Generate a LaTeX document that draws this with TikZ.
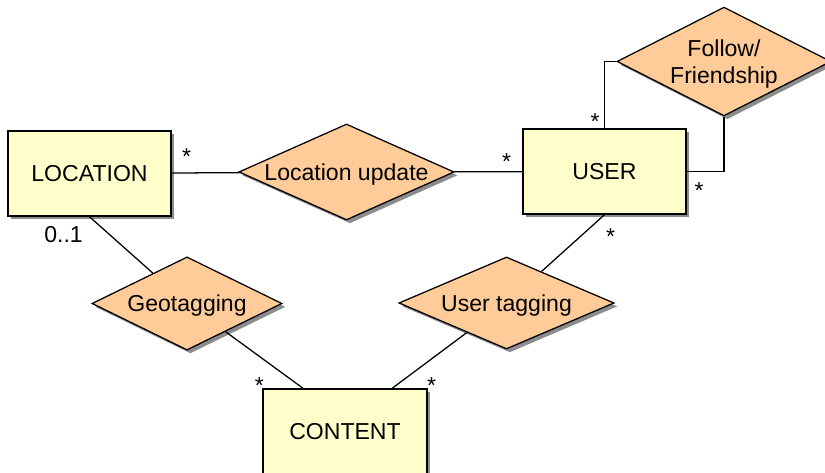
\documentclass[tikz,border=0pt]{standalone}
\usepackage{fontspec}
\setmainfont{Liberation Sans}
\usetikzlibrary{shapes.geometric,shadows}

\definecolor{entcol}{HTML}{FFFFCC}
\definecolor{relcol}{HTML}{FFCC99}
\tikzset{
  er shadow/.style={drop shadow={shadow xshift=2.4pt, shadow yshift=-2.4pt,
                    fill=black!45, opacity=1}},
  entity/.style={rectangle, draw=black, fill=entcol, line width=0.9pt,
                 minimum width=4.08cm, minimum height=2.13cm, inner sep=0pt,
                 er shadow},
  relation/.style={diamond, draw=black, fill=relcol, line width=0.9pt,
                   inner sep=0pt, align=center, text depth=0pt, er shadow},
  link/.style={black, line width=0.9pt},
  mult/.style={inner sep=0pt},
}

\begin{document}
\begin{tikzpicture}[x=0.025cm, y=-0.025cm,
      font=\fontsize{16.4}{19.4}\selectfont]
    \useasboundingbox (0,0) rectangle (825,473);

    % ======== ENTITIES ========
    \node[entity] (loc) at (89.5,173.5) {LOCATION};
    \node[entity] (user) at (604.5,171.5) {USER};
    \node[entity, minimum width=4.1cm] (cont) at (345,431.5) {CONTENT};

    % ======== RELATIONSHIPS ========
    \node[relation, aspect=2.24, minimum width=5.38cm, minimum height=2.4cm]
      (locupd) at (346.5,172) {Location update};
    \node[relation, aspect=1.96, minimum width=5.35cm, minimum height=2.72cm]
      (follow) at (724,61.5) {Follow/\\Friendship};
    \node[relation, aspect=2.04, minimum width=4.75cm, minimum height=2.33cm]
      (geo) at (187,303.5) {Geotagging};
    \node[relation, aspect=2.34, minimum width=5.38cm, minimum height=2.3cm]
      (utag) at (506.5,303) {User tagging};

    % ======== CONNECTIONS ========
    \draw[link] (loc) -- (locupd);
    \draw[link] (locupd) -- (user);
    \draw[link] (user.north) |- (follow.west);
    \draw[link] (follow.south) |- (user.east);
    \draw[link] (loc.south) -- (geo);
    \draw[link] (geo) -- ([xshift=-1.05cm]cont.north);
    \draw[link] ([xshift=1.18cm]cont.north) -- (utag);
    \draw[link] (user.south) -- (utag);

    % multiplicities
    \foreach \mx/\my [count=\i] in {186.7/156.7, 506.7/161.7, 595/121.7,
        699/190.7, 610.7/236.7, 259.3/385.7, 431.7/385.7}
      \node[mult] (m\i) at (\mx,\my) {*};
    \node[mult] (m0) at (63.5,234.7) {0..1};

  \end{tikzpicture}
\end{document}
